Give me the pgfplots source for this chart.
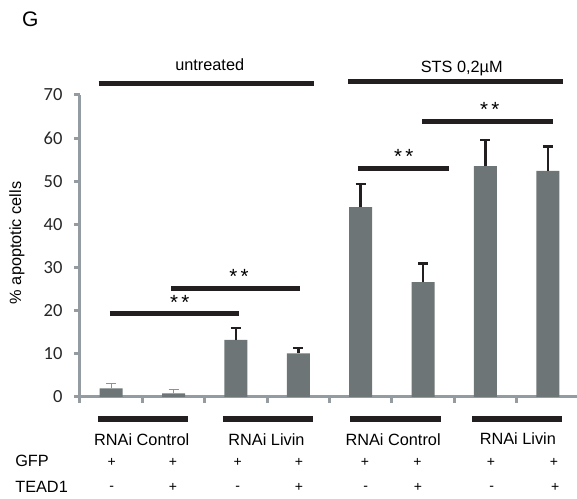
\documentclass[border=0pt]{standalone}
\usepackage{pgfplots}
\pgfplotsset{compat=1.18}
\usepackage{fontspec}
\setmainfont{Liberation Sans}
\newfontfamily\calibri{Carlito}
\definecolor{axisgray}{RGB}{148,156,161}
\definecolor{bargray}{RGB}{109,117,119}
\definecolor{thinerr}{RGB}{140,146,150}
\definecolor{ink}{RGB}{35,31,32}

\begin{document}
\begin{tikzpicture}[lab/.style={font=\fontsize{16.3}{16}\selectfont, inner sep=0pt},
                    sign/.style={font=\fontsize{14}{14}\selectfont, inner sep=0pt},
                    star/.style={font=\fontsize{20.5}{20}\selectfont, inner sep=0pt}]
\begin{axis}[
  scale only axis, width=499pt, height=302pt,
  xmin=0, xmax=8, ymin=0, ymax=70,
  clip=false,
  axis x line=bottom, axis y line=left,
  axis line style={axisgray, line width=3pt, -},
  ytick={0,10,...,70}, xtick={0,...,8}, xticklabels={},
  tick style={axisgray, line width=3pt},
  tick align=outside, major tick length=6pt,
  yticklabel style={font=\calibri\fontsize{18.5}{18}\selectfont, text=black!85, xshift=-8pt},
  /pgf/number format/assume math mode=true,
]
% first two bars: thin gray error bars
\addplot[ybar, bar width=23pt, fill=bargray, draw=none,
  error bars/.cd, y dir=plus, y explicit,
  error bar style={thinerr, line width=1pt},
  error mark options={rotate=90, thinerr, line width=1pt, mark size=5pt}]
  coordinates {(0.5,2.0) +- (0,1.0) (1.5,0.8) +- (0,1.0)};
% remaining bars
\addplot[ybar, bar width=23pt, fill=bargray, draw=none,
  error bars/.cd, y dir=plus, y explicit,
  error bar style={ink, line width=2.5pt},
  error mark options={rotate=90, ink, line width=2.5pt, mark size=5pt}]
  coordinates {(2.5,13.2) +- (0,2.8) (3.5,10.1) +- (0,1.3)
               (4.5,44.0) +- (0,5.3) (5.5,26.6) +- (0,4.3)
               (6.5,53.5) +- (0,6.1) (7.5,52.4) +- (0,5.7)};

% significance lines
\draw[ink, line width=5pt] (axis cs:0.48,19.3) -- (axis cs:2.55,19.3);
\draw[ink, line width=5pt] (axis cs:1.46,25.1) -- (axis cs:3.53,25.1);
\draw[ink, line width=5pt] (axis cs:4.46,52.9) -- (axis cs:5.91,52.9);
\draw[ink, line width=5pt] (axis cs:5.49,63.9) -- (axis cs:7.58,63.9);
\node[star, anchor=base] at (axis cs:1.60,20.3) {*\,*};
\node[star, anchor=base] at (axis cs:2.55,26.3) {*\,*};
\node[star, anchor=base] at (axis cs:5.19,54.1) {*\,*};
\node[star, anchor=base] at (axis cs:6.57,65.1) {*\,*};

% treatment groups
\draw[ink, line width=5pt] (axis cs:0.30,72.6) -- (axis cs:3.75,72.6);
\draw[ink, line width=5pt] (axis cs:4.30,73.2) -- (axis cs:7.75,73.2);
\node[lab, anchor=base] at (axis cs:2.08,75.6) {untreated};
\node[lab, anchor=base] at (axis cs:6.12,75.3) {STS 0,2µM};

% RNAi groups below axis
\draw[ink, line width=5.5pt] (axis cs:0.29,-5.1) -- (axis cs:1.73,-5.1);
\draw[ink, line width=5.5pt] (axis cs:2.29,-5.1) -- (axis cs:3.74,-5.1);
\draw[ink, line width=5.5pt] (axis cs:4.33,-5.1) -- (axis cs:5.78,-5.1);
\draw[ink, line width=5.5pt] (axis cs:6.29,-5.1) -- (axis cs:7.73,-5.1);
\node[lab, anchor=base] at (axis cs:0.99,-11.3) {RNAi Control};
\node[lab, anchor=base] at (axis cs:2.99,-11.3) {RNAi Livin};
\node[lab, anchor=base] at (axis cs:5.02,-11.3) {RNAi Control};
\node[lab, anchor=base] at (axis cs:7.02,-11.1) {RNAi Livin};

% GFP / TEAD1 rows
\node[lab, anchor=base west] at (axis cs:-1.04,-16.2) {GFP};
\node[lab, anchor=base west] at (axis cs:-1.04,-22.1) {TEAD1};
\pgfplotsinvokeforeach{0.51,1.49,2.53,3.51,4.57,5.41,6.59,7.60}{
  \node[sign, anchor=base] at (axis cs:#1,-16.1) {+};}
\pgfplotsinvokeforeach{1.49,3.51,5.42,7.62}{
  \node[sign, anchor=base] at (axis cs:#1,-22.0) {+};}
\pgfplotsinvokeforeach{0.51,2.53,4.58,6.60}{
  \node[sign, anchor=base] at (axis cs:#1,-21.8) {-};}

% y label and panel letter
\node[lab, rotate=90, anchor=center] at (axis cs:-1.01,35.7) {\% apoptotic cells};
\node[anchor=base west, inner sep=0pt, font=\fontsize{21}{21}\selectfont] at (axis cs:-0.93,85.8) {G};

\coordinate (bl) at (axis cs:-1.282,-23.64);
\coordinate (tr) at (axis cs:7.968,92.0);
\end{axis}
\pgfresetboundingbox
\path[use as bounding box] (bl) rectangle (tr);
\end{tikzpicture}
\end{document}
